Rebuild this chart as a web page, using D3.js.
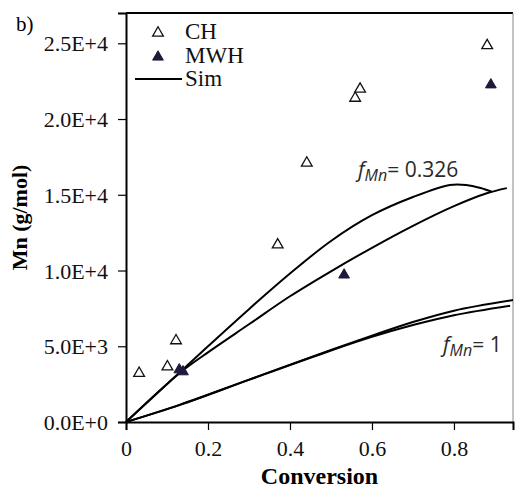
<!DOCTYPE html>
<html><head><meta charset="utf-8">
<script src="https://cdn.jsdelivr.net/npm/d3@7"></script>
<style>body{margin:0;background:#fff}svg{display:block}</style>
</head><body>
<script>
// ---- data ----
const chX = [0.032, 0.101, 0.122, 0.370, 0.441, 0.559, 0.571, 0.881];
const chY = [3220, 3650, 5370, 11700, 17100, 21380, 21980, 24850];
const mwhX = [0.130, 0.139, 0.532, 0.890];
const mwhY = [3450, 3320, 9710, 22260];
// f_Mn = 0.326 simulations
const simAX = [0, 0.134, 0.2, 0.3, 0.4, 0.5, 0.6, 0.7, 0.79, 0.83, 0.865, 0.892];
const simAY = [0, 3350, 5000, 7450, 9800, 11950, 13650, 14850, 15650, 15650, 15450, 15210];
const simBX = [0, 0.134, 0.2, 0.3, 0.4, 0.5, 0.6, 0.7, 0.8, 0.88, 0.929];
const simBY = [0, 3300, 4600, 6450, 8300, 9950, 11500, 12950, 14250, 15100, 15440];
// f_Mn = 1 simulations
const simCX = [0, 0.132, 0.3, 0.5, 0.6, 0.7, 0.8, 0.944];
const simCY = [0, 1150, 2800, 4750, 5700, 6600, 7350, 8050];
const simDX = [0, 0.132, 0.3, 0.5, 0.6, 0.7, 0.8, 0.937];
const simDY = [0, 1130, 2780, 4720, 5620, 6400, 7050, 7680];
const xTicks = [0, 0.2, 0.4, 0.6, 0.8];
const yTicks = [0, 5000, 10000, 15000, 20000, 25000];
const yTickLabels = ["0.0E+0", "5.0E+3", "1.0E+4", "1.5E+4", "2.0E+4", "2.5E+4"];

const W = 515, H = 490;
const L = 126, R = 513, T = 13, B = 422;
const svg = d3.select("body").append("svg").attr("width", W).attr("height", H);
const x = d3.scaleLinear().domain([0, 0.944]).range([L, R]);
const y = d3.scaleLinear().domain([0, 27000]).range([B, T]);

const serif = "'Liberation Serif','Times New Roman',serif";

// frame: top & right
svg.append("line").attr("x1", L).attr("x2", R).attr("y1", T).attr("y2", T)
  .attr("stroke", "#000").attr("stroke-width", 2);
svg.append("line").attr("x1", R).attr("x2", R).attr("y1", T).attr("y2", B)
  .attr("stroke", "#888").attr("stroke-width", 1);

// axes
const xAxis = svg.append("g").attr("transform", `translate(0,${B})`)
  .call(d3.axisBottom(x).tickValues(xTicks).tickSize(8).tickPadding(6)
    .tickFormat(d => d === 0 ? "0" : d3.format(".1f")(d)));
const yAxis = svg.append("g").attr("transform", `translate(${L},0)`)
  .call(d3.axisLeft(y).tickValues(yTicks).tickSize(8).tickPadding(10)
    .tickFormat((d, i) => yTickLabels[i]));
[xAxis, yAxis].forEach(g => {
  g.select(".domain").attr("stroke", "#000").attr("stroke-width", 2);
  g.selectAll(".tick line").attr("stroke", "#000").attr("stroke-width", 1.2);
  g.selectAll("text").attr("font-family", serif).attr("font-size", 22).attr("fill", "#111");
});
xAxis.selectAll("text").attr("dy", "0.9em");
yAxis.selectAll("text").attr("dy", "0.35em");

// axis titles
svg.append("text").attr("x", (L + R) / 2).attr("y", 484).attr("text-anchor", "middle")
  .attr("font-family", serif).attr("font-weight", "bold").attr("font-size", 24)
  .text("Conversion");
svg.append("text").attr("transform", `translate(27,${(T + B) / 2}) rotate(-90)`)
  .attr("text-anchor", "middle").attr("font-family", serif).attr("font-weight", "bold")
  .attr("font-size", 22).text("Mn (g/mol)");
svg.append("text").attr("x", 16).attr("y", 31).attr("font-family", serif)
  .attr("font-size", 21).text("b)");

// simulation curves
const line = d3.line().x(d => x(d[0])).y(d => y(d[1])).curve(d3.curveCatmullRom.alpha(0.5));
[[simAX, simAY], [simBX, simBY], [simCX, simCY], [simDX, simDY]].forEach(([xs, ys]) => {
  svg.append("path").datum(xs.map((v, i) => [v, ys[i]])).attr("d", line)
    .attr("fill", "none").attr("stroke", "#000").attr("stroke-width", 2);
});

// markers
const tri = d3.symbol().type(d3.symbolTriangle).size(50);
svg.append("g").selectAll("path").data(chX.map((v, i) => [v, chY[i]])).join("path")
  .attr("d", tri).attr("transform", d => `translate(${x(d[0])},${y(d[1])})`)
  .attr("fill", "#fff").attr("stroke", "#111").attr("stroke-width", 1.3);
svg.append("g").selectAll("path").data(mwhX.map((v, i) => [v, mwhY[i]])).join("path")
  .attr("d", tri).attr("transform", d => `translate(${x(d[0])},${y(d[1])})`)
  .attr("fill", "#1d1a3a").attr("stroke", "#1d1a3a").attr("stroke-width", 1);

// legend
const lg = svg.append("g");
lg.append("path").attr("d", tri).attr("transform", "translate(158,33)")
  .attr("fill", "#fff").attr("stroke", "#111").attr("stroke-width", 1.3);
lg.append("path").attr("d", tri).attr("transform", "translate(158,57)")
  .attr("fill", "#1d1a3a").attr("stroke", "#1d1a3a");
lg.append("line").attr("x1", 135).attr("x2", 182).attr("y1", 79).attr("y2", 79)
  .attr("stroke", "#000").attr("stroke-width", 2);
[["CH", 39], ["MWH", 63], ["Sim", 86]].forEach(([t, yy]) => {
  lg.append("text").attr("x", 185).attr("y", yy).attr("font-family", serif)
    .attr("font-size", 23).attr("fill", "#111").text(t);
});

// annotations
const sans = "'Open Sans','Liberation Sans',sans-serif";
function ann(xx, yy, val) {
  const t = svg.append("text").attr("x", xx).attr("y", yy).attr("font-family", sans)
    .attr("font-size", 21).attr("fill", "#2a2a2a");
  t.append("tspan").attr("font-style", "italic").text("f");
  t.append("tspan").attr("font-style", "italic").attr("font-size", 16).attr("dy", 4).text("Mn");
  t.append("tspan").attr("dy", -4).text("= " + val);
}
ann(358, 177, "0.326");
ann(443, 352, "1");
</script>
</body></html>
